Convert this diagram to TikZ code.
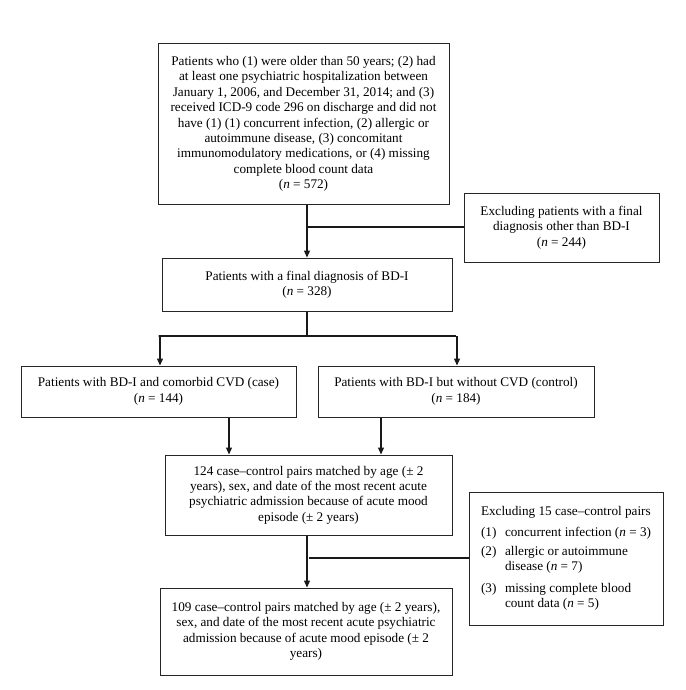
\documentclass[tikz,border=0pt]{standalone}
\usepackage{fontspec}
\setmainfont{Liberation Serif}
\usetikzlibrary{arrows.meta,calc}
\begin{document}
\begin{tikzpicture}[x=1pt,y=-1pt,
  box/.style={draw=black!85,line width=1pt,align=center,inner sep=0pt,
    font=\fontsize{13.2}{15.4}\selectfont},
  conn/.style={line width=1.3pt,draw=black!90},
  arr/.style={conn,-{Triangle[length=7pt,width=6pt]}}]
\useasboundingbox (0,0) rectangle (685,690);
\node[box,minimum width=291pt,minimum height=160pt] (b1) at (303.5,124)
 {Patients who (1) were older than 50 years; (2) had\\
  at least one psychiatric hospitalization between\\
  January 1, 2006, and December 31, 2014; and (3)\\
  received ICD-9 code 296 on discharge and did not\\
  have (1) (1) concurrent infection, (2) allergic or\\
  autoimmune disease, (3) concomitant\\
  immunomodulatory medications, or (4) missing\\
  complete blood count data\\
  (\textit{n} = 572)};
\node[box,minimum width=195pt,minimum height=69pt] (ex1) at (561.5,227.5)
 {Excluding patients with a final\\ diagnosis other than BD-I\\ (\textit{n} = 244)};
\node[box,minimum width=290pt,minimum height=53pt] (b2) at (307,284.5)
 {Patients with a final diagnosis of BD-I\\ (\textit{n} = 328)};
\node[box,minimum width=275pt,minimum height=51pt] (lb) at (158.5,391.5)
 {Patients with BD-I and comorbid CVD (case)\\ (\textit{n} = 144)};
\node[box,minimum width=276pt,minimum height=51pt] (rb) at (456,391.5)
 {Patients with BD-I but without CVD (control)\\ (\textit{n} = 184)};
\node[box,minimum width=287pt,minimum height=80pt] (b4) at (308.5,495)
 {124 case--control pairs matched by age (± 2\\
  years), sex, and date of the most recent acute\\
  psychiatric admission because of acute mood\\
  episode (± 2 years)};
\node[box,minimum width=292pt,minimum height=87pt] (b5) at (306,631.5)
 {109 case--control pairs matched by age (± 2 years),\\
  sex, and date of the most recent acute psychiatric\\
  admission because of acute mood episode (± 2\\
  years)};
\node[box,align=left,minimum width=194pt,minimum height=133pt] (ex2) at (566,558.5)
 {Excluding 15 case--control pairs\\[5pt]
  \makebox[24pt][l]{(1)}concurrent infection (\textit{n} = 3)\\[4pt]
  \makebox[24pt][l]{(2)}allergic or autoimmune\\
  \hspace*{24pt}disease (\textit{n} = 7)\\[6pt]
  \makebox[24pt][l]{(3)}missing complete blood\\
  \hspace*{24pt}count data (\textit{n} = 5)};
% connectors
\coordinate (j1) at (307,227);
\draw[arr] (b1.south -| j1) -- (b2.north -| j1);
\draw[conn] (j1) -- (ex1.west |- j1);
\coordinate (j2) at (307,336);
\draw[conn] (b2.south -| j2) -- (j2);
\draw[conn] (j2) -- (j2 -| lb.north) -- (j2 -| rb.north);
\draw[arr] ([xshift=1.5pt]j2 -| lb.north) -- ([xshift=1.5pt]lb.north);
\draw[arr] ([xshift=1pt]j2 -| rb.north) -- ([xshift=1pt]rb.north);
\draw[arr] ([xshift=70.5pt]lb.south) -- ([xshift=70.5pt]lb.south |- b4.north);
\draw[arr] ([xshift=-75pt]rb.south) -- ([xshift=-75pt]rb.south |- b4.north);
\coordinate (j3) at (307,558);
\draw[arr] (b4.south -| j3) -- (b5.north -| j3);
\draw[conn] ([xshift=2pt]j3) -- (ex2.west |- j3);
\end{tikzpicture}
\end{document}
